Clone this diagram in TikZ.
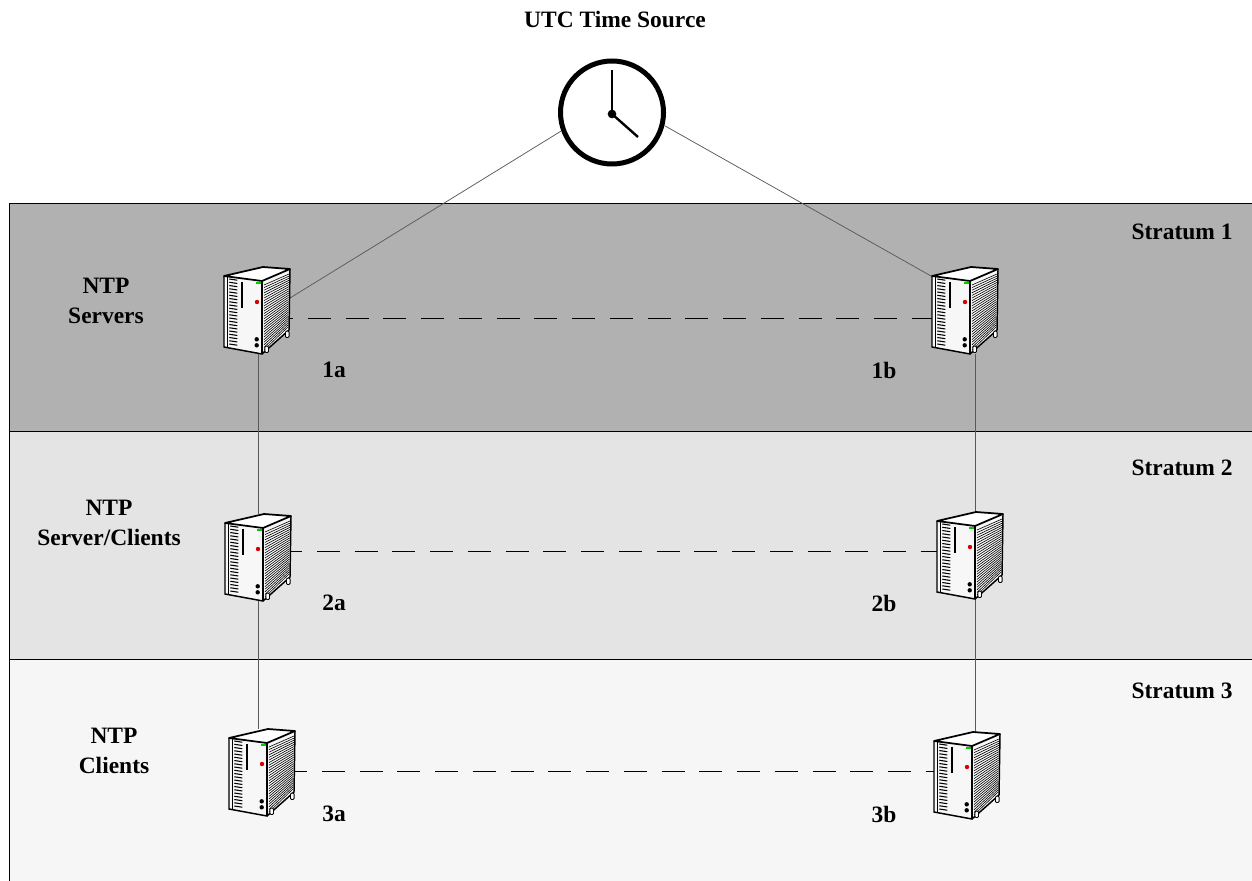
\documentclass[tikz,border=0pt]{standalone}
\usepackage{fontspec}
\setmainfont{Liberation Serif}
\usetikzlibrary{calc}
\definecolor{bandA}{HTML}{B1B1B1}
\definecolor{bandB}{HTML}{E4E4E4}
\definecolor{bandC}{HTML}{F6F6F6}
\tikzset{
  x=0.75pt,y=-0.75pt,
  label text/.style={font=\bfseries\fontsize{17.6}{22}\selectfont,align=center,inner sep=0pt,text=black},
  band/.style={draw=black,line width=0.6pt},
  link/.style={draw=black!65,line width=0.55pt},
  dashlink/.style={draw=black,line width=0.6pt,dash pattern=on 17.25pt off 11.05pt},
  srv/.style={inner sep=0pt,minimum width=49.5pt,minimum height=64.5pt},
}
\newcommand{\serverbox}[3]{%
  \begin{scope}[shift={(#1,#2)}]
    \fill[white!97!black] (14,21) -- (52,26) -- (52,99) -- (14,92) -- cycle;
    \fill[white] (14,21) -- (53,12) -- (80,14) -- (52,26) -- cycle;
    \fill[white!97!black] (52,26) -- (80,14) -- (79,75) -- (52,99) -- cycle;
    % side grille
    \foreach \t in {0,0.04,...,1.001}{
      \draw[black,line width=0.45pt] ($(54,30)!\t!(54,95)$) -- ($(79,19)!\t!(78,72)$);
    }
    % front grille
    \foreach \t in {0,0.05,...,1.001}{
      \draw[black,line width=0.8pt] ($(19.3,24)!\t!(19.3,89)$) -- ++(8,1.2);
    }
    \draw[black,line width=1.3pt,line join=round] (14,21) -- (53,12) -- (80,14) -- (52,26) -- cycle;
    \draw[black,line width=1.1pt] (14,21) -- (14,92) -- (52,99) -- (79,75) -- (80,14);
    \draw[black,line width=0.9pt] (52,26) -- (52,99);
    \draw[black,line width=0.9pt] (17.5,22) -- (17.5,92.5);
    \fill[black] (30.7,26.7) rectangle (33.3,52.7);
    \fill[black] (46.7,84.3) circle (2.2);
    \fill[black] (46.7,90.3) circle (2.2);
    \fill[green!80!black] (46,27) rectangle (50.5,29.3);
    \fill[red!85!black] (47,47) circle (2.2);
    \foreach \p in {(56.7,94.3),(77.3,79.3)}{
      \draw[black,fill=white,line width=0.7pt,rounded corners=0.8pt,shift={\p}] (-1.8,-3.2) rectangle (1.8,3.2);
    }
  \end{scope}
}
\begin{document}
\begin{tikzpicture}
\useasboundingbox (0,0) rectangle (1252,881);
\fill[white] (0,0) rectangle (1252,881);
% bands
\fill[bandA] (9.5,203) rectangle (1252,431);
\fill[bandB] (9.5,431) rectangle (1252,659);
\fill[bandC] (9.5,659) rectangle (1252,881);
\draw[band] (1252,203) -- (9.5,203) -- (9.5,881);
\draw[band] (9.5,431) -- (1252,431);
\draw[band] (9.5,659) -- (1252,659);
% server placeholders, named for the connectors
\node[srv] (s1a) at (210+47,255+55.5) {};
\node[srv] (s1b) at (918+47,255+55.5) {};
\node[srv] (s2a) at (211+47,502+55.5) {};
\node[srv] (s2b) at (923+47,500+55.5) {};
\node[srv] (s3a) at (215+47,717+55.5) {};
\node[srv] (s3b) at (920+47,720+55.5) {};
\coordinate (s1aside) at (290,298);
\coordinate (s1btop) at (931,276);
\coordinate (vl) at (258.7,0);
\coordinate (vr) at (975,0);
\coordinate (r1) at (0,318);
\coordinate (r2) at (0,551);
\coordinate (r3) at (0,771);
% clock
\node[circle,draw=black,line width=3.75pt,fill=white,minimum size=77.25pt,inner sep=0pt] (clock) at (612,112.5) {};
% connectors
\draw[link] (clock.200) -- (s1aside);
\draw[link] (clock.-14) -- (s1btop);
\draw[link] (s1a.south -| vl) -- (s2a.north -| vl);
\draw[link] (s2a.south -| vl) -- (s3a.north -| vl);
\draw[link] (s1b.south -| vr) -- (s2b.north -| vr);
\draw[link] (s2b.south -| vr) -- (s3b.north -| vr);
\draw[dashlink,dash phase=15pt] (s1a.east |- r1) -- (s1b.west |- r1);
\draw[dashlink,dash phase=9pt] (s2a.east |- r2) -- (s2b.west |- r2);
\draw[dashlink,dash phase=8.25pt] (s3a.east |- r3) -- (s3b.west |- r3);
% clock hands
\node[circle,fill=black,minimum size=6.5pt,inner sep=0pt] (hub) at (612,114) {};
\coordinate (hand12) at (612,70);
\coordinate (hand4) at (638,137);
\draw[black,line width=1.8pt] (hub.center) -- (hand12);
\draw[black,line width=1.8pt] (hub.center) -- (hand4);
% servers
\serverbox{210}{255}{s1a}
\serverbox{918}{255}{s1b}
\serverbox{211}{502}{s2a}
\serverbox{923}{500}{s2b}
\serverbox{215}{717}{s3a}
\serverbox{920}{720}{s3b}
% labels
\node[label text] (utc) at (615,20) {UTC Time Source};
\node[label text] (l0) at (1182,232) {Stratum 1};
\node[label text] (l1) at (1182,468) {Stratum 2};
\node[label text] (l2) at (1182,691) {Stratum 3};
\node[label text] (n1) at (106,301) {NTP\\Servers};
\node[label text] (n2) at (109,523) {NTP\\Server/Clients};
\node[label text] (n3) at (114,751) {NTP\\Clients};
\node[label text] (a1) at (334,370) {1a};
\node[label text] (b1) at (884,370) {1b};
\node[label text] (a2) at (334,603) {2a};
\node[label text] (b2) at (884,603) {2b};
\node[label text] (a3) at (334,814) {3a};
\node[label text] (b3) at (884,814) {3b};
\end{tikzpicture}
\end{document}
